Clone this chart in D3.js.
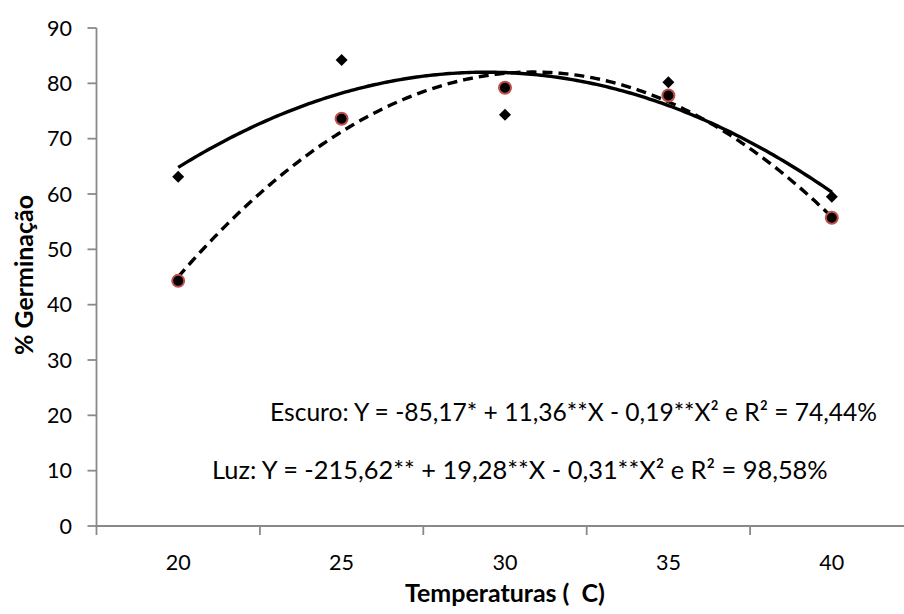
<!DOCTYPE html>
<html>
<head>
<meta charset="utf-8">
<script src="https://cdn.jsdelivr.net/npm/d3@7"></script>
<style>
  html, body { margin: 0; padding: 0; background: #fff; }
  svg text { font-family: Lato, "Open Sans", sans-serif; fill: #000; white-space: pre; }
</style>
</head>
<body>
<svg id="chart" width="904" height="614"></svg>
<script>
// ---- data ----
const temps = [20, 25, 30, 35, 40];
const xTickLabels = ["20", "25", "30", "35", "40"];
const escuro = [63.1, 84.2, 74.3, 80.2, 59.5];   // diamonds, solid trendline
const luz = [44.3, 73.6, 79.2, 77.8, 55.7];      // circles, dashed trendline
const yTicks = [0, 10, 20, 30, 40, 50, 60, 70, 80, 90];
const xBoundaries = [17.5, 22.5, 27.5, 32.5, 37.5, 42.5];
const eqEscuro = "Escuro: Y = -85,17* + 11,36**X - 0,19**X² e R² = 74,44%";
const eqLuz = "Luz: Y = -215,62** + 19,28**X - 0,31**X² e R² = 98,58%";
const xTitle = "Temperaturas (  C)";
const yTitle = "% Germinação";

// ---- least squares quadratic trendline (like Excel's polynomial trendline) ----
function quadFit(xs, ys) {
  const S = [0, 0, 0, 0, 0], T = [0, 0, 0];
  xs.forEach((x, i) => {
    for (let k = 0; k < 5; k++) S[k] += Math.pow(x, k);
    for (let k = 0; k < 3; k++) T[k] += Math.pow(x, k) * ys[i];
  });
  const A = [[S[0], S[1], S[2], T[0]], [S[1], S[2], S[3], T[1]], [S[2], S[3], S[4], T[2]]];
  for (let c = 0; c < 3; c++) {
    for (let r = c + 1; r < 3; r++) {
      const f = A[r][c] / A[c][c];
      for (let k = c; k < 4; k++) A[r][k] -= f * A[c][k];
    }
  }
  const b = [0, 0, 0];
  for (let r = 2; r >= 0; r--) {
    let s = A[r][3];
    for (let k = r + 1; k < 3; k++) s -= A[r][k] * b[k];
    b[r] = s / A[r][r];
  }
  return x => b[0] + b[1] * x + b[2] * x * x;
}

const svg = d3.select("#chart");
const x = d3.scaleLinear().domain([17.5, 42.5]).range([96.5, 913.5]);
const y = d3.scaleLinear().domain([0, 90]).range([526, 28]);
const axisColor = "#898989";

// font size helper
function fitWidth(sel, target) {
  const fs = parseFloat(sel.attr("font-size"));
  const w = sel.node().getComputedTextLength();
  sel.attr("font-size", (fs * target / w).toFixed(2));
}
const probe = svg.append("text").attr("font-size", 24).text("90");
const tickFs = 24 * 25 / probe.node().getComputedTextLength();
probe.remove();

// ---- axes ----
const gy = svg.append("g");
gy.append("line").attr("x1", x(17.5)).attr("x2", x(17.5)).attr("y1", y(90)).attr("y2", y(0))
  .attr("stroke", axisColor).attr("stroke-width", 1.8);
gy.selectAll(".yt").data(yTicks).join("line")
  .attr("x1", x(17.5) - 9).attr("x2", x(17.5)).attr("y1", d => y(d)).attr("y2", d => y(d))
  .attr("stroke", axisColor).attr("stroke-width", 1.8);
gy.selectAll(".yl").data(yTicks).join("text")
  .attr("x", 72).attr("y", d => y(d)).attr("dy", "0.36em")
  .attr("text-anchor", "end").attr("font-size", tickFs).text(d => d);

const gx = svg.append("g");
gx.append("line").attr("x1", x(17.5)).attr("x2", x(42.5)).attr("y1", y(0)).attr("y2", y(0))
  .attr("stroke", axisColor).attr("stroke-width", 1.8);
gx.selectAll(".xt").data(xBoundaries).join("line")
  .attr("x1", d => x(d)).attr("x2", d => x(d)).attr("y1", y(0)).attr("y2", y(0) + 9)
  .attr("stroke", axisColor).attr("stroke-width", 1.8);
gx.selectAll(".xl").data(temps).join("text")
  .attr("x", d => x(d)).attr("y", 570)
  .attr("text-anchor", "middle").attr("font-size", tickFs).text((d, i) => xTickLabels[i]);

// axis titles
const xt = svg.append("text").attr("x", x(30)).attr("y", 602).attr("text-anchor", "middle")
  .attr("font-weight", "bold").attr("font-size", 24).text(xTitle);
fitWidth(xt, 200);
const yt = svg.append("text").attr("transform", "translate(24,275) rotate(-90)")
  .attr("text-anchor", "middle").attr("dy", "0.36em")
  .attr("font-weight", "bold").attr("font-size", 24).text(yTitle);
fitWidth(yt, 160);

// ---- trendlines ----
const line = d3.line().x(d => x(d[0])).y(d => y(d[1])).curve(d3.curveLinear);
const xs = d3.range(0, 201).map(i => temps[0] + (temps[temps.length - 1] - temps[0]) * i / 200);
const fE = quadFit(temps, escuro), fL = quadFit(temps, luz);

svg.append("path").datum(xs.map(v => [v, fL(v)])).attr("d", line)
  .attr("fill", "none").attr("stroke", "#000").attr("stroke-width", 3.4)
  .attr("stroke-dasharray", "10,6");
svg.append("path").datum(xs.map(v => [v, fE(v)])).attr("d", line)
  .attr("fill", "none").attr("stroke", "#000").attr("stroke-width", 3.4);

// ---- markers ----
svg.selectAll(".dia").data(temps).join("path")
  .attr("d", d3.symbol().type(d3.symbolSquare).size(72))
  .attr("transform", (d, i) => `translate(${x(d)},${y(escuro[i])}) rotate(45)`)
  .attr("fill", "#000");
svg.selectAll(".circ").data(temps).join("circle")
  .attr("cx", d => x(d)).attr("cy", (d, i) => y(luz[i])).attr("r", 6)
  .attr("fill", "#000").attr("stroke", "#c0504d").attr("stroke-width", 2);

// ---- equations ----
const e1 = svg.append("text").attr("x", 270).attr("y", 421).attr("font-size", 24).text(eqEscuro);
fitWidth(e1, 607);
const e2 = svg.append("text").attr("x", 212).attr("y", 479).attr("font-size", 24).text(eqLuz);
fitWidth(e2, 616);
</script>
</body>
</html>
